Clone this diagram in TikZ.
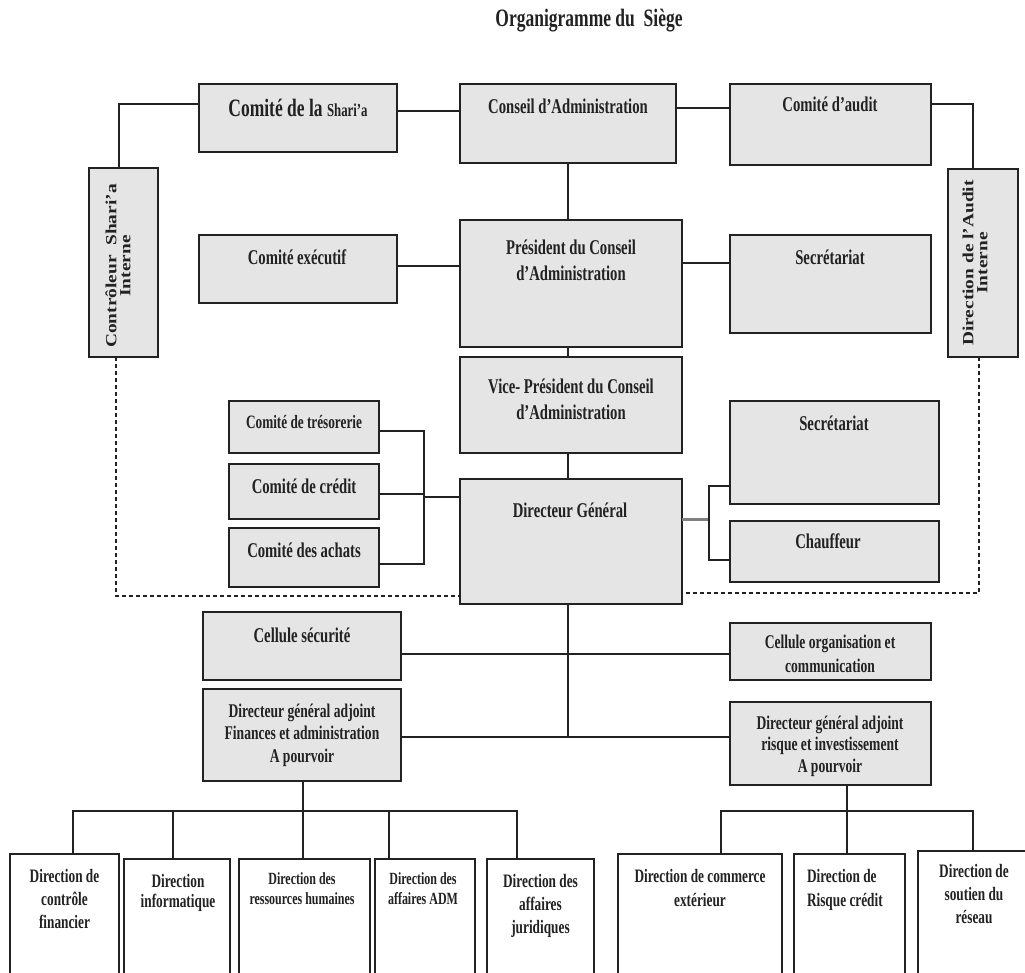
\documentclass[tikz,border=0pt]{standalone}
\usepackage{fontspec}
\setmainfont{Liberation Serif}[FakeStretch=0.7]
\newfontfamily\vfam{Liberation Serif}[FakeStretch=1.25]
\newcommand\fs[2]{\fontsize{#1}{#2}\selectfont\bfseries}
\newcommand\tlines[1]{\vtop{\lineskiplimit=-100pt\lineskip=0pt\let\\\cr\halign{\hfil##\hfil\cr#1\crcr}}}
\newcommand\tlinesl[1]{\vtop{\lineskiplimit=-100pt\lineskip=0pt\let\\\cr\halign{##\hfil\cr#1\crcr}}}
\definecolor{boxgray}{HTML}{E5E5E5}
\definecolor{ink}{HTML}{222222}
\newcommand\bx[6]{\node[#6, minimum width={((#4)-(#2))*1pt}, minimum height={((#5)-(#3))*1pt}] (#1) at ({((#2)+(#4))/2},{((#3)+(#5))/2}) {};}
\newcommand\tx[5]{\node[txt, font=#4, anchor=base] (#1) at (#2,#3) {\tlines{#5}};}
\tikzset{
  gbox/.style={draw=ink, line width=1.8pt, fill=boxgray, inner sep=0pt, outer sep=0pt},
  wbox/.style={draw=ink, line width=1.8pt, fill=white, inner sep=0pt, outer sep=0pt},
  txt/.style={inner sep=0pt, outer sep=0pt, text=ink},
  ln/.style={draw=ink, line width=1.6pt},
  gln/.style={draw=black!50, line width=3pt},
  dsh/.style={draw=ink, line width=1.3pt, dash pattern=on 4pt off 3pt}
}
\begin{document}
\begin{tikzpicture}[x=1pt,y=-1pt]
\clip (0,0) rectangle (1025,973);
\fill[white] (0,0) rectangle (1025,973);
% title
\node[txt, font=\fs{25}{28}, anchor=base] (title) at (589,27) {Organigramme du~~Siège};
% grey boxes
\bx{sharia}{199}{84}{397}{152}{gbox}
\bx{conseil}{460}{84}{676}{163}{gbox}
\bx{audit}{730}{84}{931}{165}{gbox}
\bx{controleur}{89}{168}{158}{357}{gbox}
\bx{dirAudit}{948}{169}{1018}{357}{gbox}
\bx{execu}{199}{235}{397}{303}{gbox}
\bx{president}{460}{220}{682}{347}{gbox}
\bx{secr1}{730}{235}{931}{333}{gbox}
\bx{vice}{460}{357}{682}{453}{gbox}
\bx{dg}{460}{479}{682}{604}{gbox}
\bx{secr2}{730}{401}{939}{504}{gbox}
\bx{chauffeur}{730}{521}{939}{582}{gbox}
\bx{treso}{229}{401}{379}{453}{gbox}
\bx{credit}{229}{464}{379}{519}{gbox}
\bx{achats}{229}{528}{379}{587}{gbox}
\bx{cellsec}{203}{612}{401}{680}{gbox}
\bx{cellorg}{730}{623}{931}{680}{gbox}
\bx{dgafin}{203}{689}{401}{781}{gbox}
\bx{dgarisque}{730}{702}{931}{785}{gbox}
% white boxes
\bx{b1}{10}{854}{119}{995}{wbox}
\bx{b2}{124}{859}{230}{995}{wbox}
\bx{b3}{239}{859}{370}{995}{wbox}
\bx{b4}{375}{859}{475}{995}{wbox}
\bx{b5}{487}{859}{594}{995}{wbox}
\bx{b6}{618}{854}{782}{995}{wbox}
\bx{b7}{794}{854}{905}{995}{wbox}
\bx{b8}{918}{851}{1035}{995}{wbox}
% texts
\node[txt, anchor=base] (shariat) at (298,117) {\fs{25}{28}Comité de la {\fs{18.3}{22}Shari’a}};
\tx{conseilt}{568}{114}{\fs{21}{25}}{Conseil d'Administration}
\tx{auditt}{830}{112}{\fs{21}{25}}{Comité d’audit}
\tx{execut}{297}{265}{\fs{21}{25}}{Comité exécutif}
\tx{presidentt}{571}{255}{\fs{21}{26}}{Président du Conseil\\d’Administration}
\tx{secr1t}{830}{265}{\fs{21}{25}}{Secrétariat}
\tx{vicet}{571}{393}{\fs{21}{26}}{Vice- Président du Conseil\\d’Administration}
\tx{dgt}{570}{517}{\fs{21}{25}}{Directeur Général}
\tx{secr2t}{834}{430}{\fs{21}{25}}{Secrétariat}
\tx{chauffeurt}{828}{548}{\fs{21}{25}}{Chauffeur}
\tx{tresot}{304}{428}{\fs{18.9}{22}}{Comité de trésorerie}
\tx{creditt}{304}{493}{\fs{21}{25}}{Comité de crédit}
\tx{achatst}{304}{557}{\fs{21}{25}}{Comité des achats}
\tx{cellsect}{302}{642}{\fs{21}{25}}{Cellule sécurité}
\tx{cellorgt}{830}{648}{\fs{19.4}{24}}{Cellule organisation et\\communication}
\tx{dgafint}{302}{717}{\fs{19.4}{22.5}}{Directeur général adjoint\\Finances et administration\\A pourvoir}
\tx{dgarisquet}{830}{729}{\fs{19.4}{21.5}}{Directeur général adjoint\\risque et investissement\\A pourvoir}
\tx{b1t}{64.5}{882}{\fs{19}{23}}{Direction de\\contrôle\\financier}
\tx{b2t}{178}{887}{\fs{19}{20}}{Direction\\informatique}
\tx{b3t}{302}{884}{\fs{17.1}{20}}{Direction des\\ressources humaines}
\tx{b4t}{423}{884}{\fs{17.1}{20}}{Direction des\\affaires ADM}
\tx{b5t}{540.5}{887}{\fs{19}{23}}{Direction des\\affaires\\juridiques}
\tx{b6t}{700}{882}{\fs{19}{24}}{Direction de commerce\\extérieur}
\node[txt, font=\fs{19}{24}, anchor=base west] (b7t) at (807,882) {\tlinesl{Direction de\\Risque crédit}};
\tx{b8t}{974}{877}{\fs{19}{23}}{Direction de\\soutien du\\réseau}
\node[txt, rotate=90, font=\vfam\fs{15.5}{14}] (controleurt) at (118,266) {\tlines{Contrôleur~~Shari’a\\Interne}};
\node[txt, rotate=90, font=\vfam\fs{15.5}{14}] (dirAuditt) at (975,263) {\tlines{Direction de l’Audit\\Interne}};
% connectors
\draw[ln] (sharia.east |- 0,111) -- (conseil.west |- 0,111);
\draw[ln] (controleur.north -| 119,0) |- (sharia.west |- 0,104);
\draw[ln] (conseil.east |- 0,108) -- (audit.west |- 0,108);
\draw[ln] (audit.east |- 0,104) -| (dirAudit.north -| 973,0);
\draw[ln] (conseil.south) -- (conseil.south |- president.north);
\draw[ln] (execu.east |- 0,266) -- (president.west |- 0,266);
\draw[ln] (president.east |- 0,263) -- (secr1.west |- 0,263);
\draw[ln] (president.south -| 568,0) -- (vice.north -| 568,0);
\draw[ln] (vice.south -| 568,0) -- (dg.north -| 568,0);
\coordinate (lb) at (424,497);
\draw[ln] (treso.east |- 0,431) -| (lb) |- (achats.east |- 0,564);
\draw[ln] (credit.east |- 0,494) -- (lb |- 0,494);
\draw[ln] (lb) -- (dg.west |- lb);
\coordinate (rb) at (709,519);
\draw[gln] (dg.east |- rb) -- (rb);
\draw[ln] (secr2.west |- 0,486) -| (rb) |- (chauffeur.west |- 0,560);
\draw[dsh] (controleur.south -| 116,0) |- (dg.west |- 0,596);
\draw[dsh] (dirAudit.south -| 979,0) |- (dg.east |- 0,593);
\coordinate (trunk) at (568,737);
\draw[ln] (dg.south -| trunk) -- (trunk);
\draw[ln] (cellsec.east |- 0,654) -- (cellorg.west |- 0,654);
\draw[ln] (dgafin.east |- trunk) -- (dgarisque.west |- trunk);
\coordinate (busL) at (303,811);
\draw[ln] (dgafin.south -| busL) -- (busL);
\draw[ln] (b1.north -| 73,0) |- (busL);
\draw[ln] (b5.north -| 517,0) |- (busL);
\draw[ln] (b2.north -| 173,0) -- (busL -| 173,0);
\draw[ln] (b3.north -| busL) -- (busL);
\draw[ln] (b4.north -| 389,0) -- (busL -| 389,0);
\coordinate (busR) at (847,811);
\draw[ln] (dgarisque.south -| busR) -- (busR);
\draw[ln] (b6.north -| 721,0) |- (busR);
\draw[ln] (b8.north -| 973,0) |- (busR);
\draw[ln] (b7.north -| busR) -- (busR);
\end{tikzpicture}
\end{document}
